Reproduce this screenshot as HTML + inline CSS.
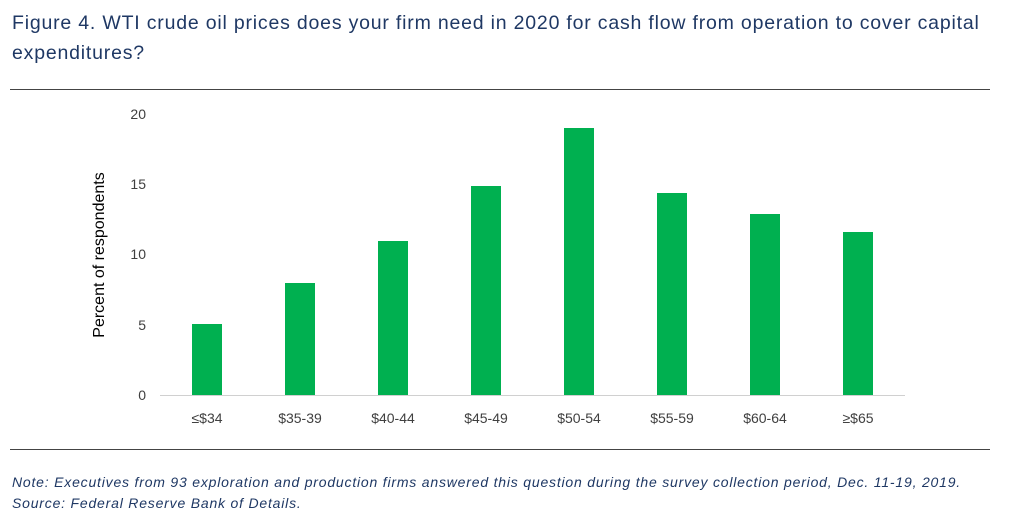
<!DOCTYPE html>
<html><head><meta charset="utf-8"><style>
body{margin:0;width:1015px;height:528px;background:#fff;overflow:hidden;font-family:"Liberation Sans",sans-serif}
.t{position:absolute;left:12px;top:8px;font-size:19.5px;color:#1f3864;line-height:30px;width:1000px;letter-spacing:0.8px}
.n{position:absolute;left:12px;font-size:14px;font-style:italic;color:#1f3864;letter-spacing:0.8px;white-space:nowrap}
</style></head><body>
<div class="t">Figure 4. WTI crude oil prices does your firm need in 2020 for cash flow from operation to cover capital expenditures?</div>
<svg width="1015" height="528" style="position:absolute;left:0;top:0">
<line x1="10" y1="89.5" x2="990" y2="89.5" stroke="#444" stroke-width="1"/>
<line x1="10" y1="449.5" x2="990" y2="449.5" stroke="#444" stroke-width="1"/>
<line x1="160" y1="395.5" x2="905" y2="395.5" stroke="#d0d0d0" stroke-width="1"/>
<g font-family="Liberation Sans,sans-serif" font-size="14" fill="#404040" text-anchor="end">
<text x="146" y="400">0</text><text x="146" y="330">5</text><text x="146" y="259">10</text><text x="146" y="189">15</text><text x="146" y="119">20</text>
</g>
<text transform="translate(104,255) rotate(-90)" text-anchor="middle" font-family="Liberation Sans,sans-serif" font-size="16" fill="#000">Percent of respondents</text>
<g fill="#00b050">
<rect x="192" y="324" width="30" height="71"/>
<rect x="285" y="283" width="30" height="112"/>
<rect x="378" y="241" width="30" height="154"/>
<rect x="471" y="186" width="30" height="209"/>
<rect x="564" y="128" width="30" height="267"/>
<rect x="657" y="193" width="30" height="202"/>
<rect x="750" y="214" width="30" height="181"/>
<rect x="843" y="232" width="30" height="163"/>
</g>
<g font-family="Liberation Sans,sans-serif" font-size="14" fill="#404040" text-anchor="middle">
<text x="207" y="423">≤$34</text><text x="300" y="423">$35-39</text><text x="393" y="423">$40-44</text><text x="486" y="423">$45-49</text><text x="579" y="423">$50-54</text><text x="672" y="423">$55-59</text><text x="765" y="423">$60-64</text><text x="858" y="423">≥$65</text>
</g>
</svg>
<div class="n" style="top:474px">Note: Executives from 93 exploration and production firms answered this question during the survey collection period, Dec. 11-19, 2019.</div>
<div class="n" style="top:495px">Source: Federal Reserve Bank of Details.</div>
</body></html>
